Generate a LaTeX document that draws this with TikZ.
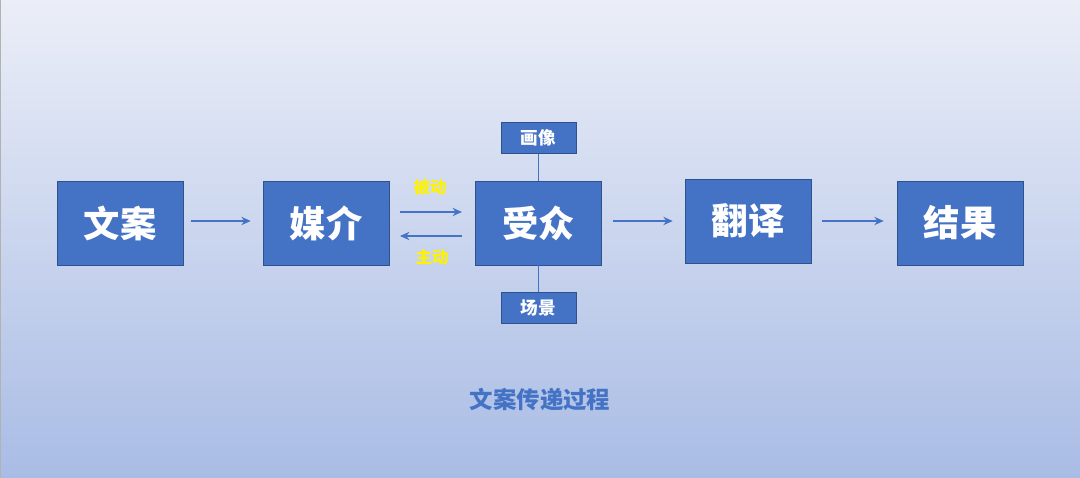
\documentclass[tikz,border=0pt]{standalone}
\usepackage{fontspec}
\newfontfamily\cjk{Noto Sans CJK SC}
\usetikzlibrary{arrows.meta,calc}
\definecolor{boxblue}{HTML}{4472C4}
\definecolor{boxedge}{HTML}{2F528F}
\definecolor{bgtop}{HTML}{EBEEF7}
\definecolor{bgbot}{HTML}{A9BCE5}
\begin{document}
\begin{tikzpicture}[x=0.03cm,y=-0.03cm,
  big/.style={draw=boxedge,fill=boxblue,text=white,minimum width=126*0.03cm,minimum height=84*0.03cm,font=\cjk\bfseries\fontsize{31}{36}\selectfont},
  small/.style={draw=boxedge,fill=boxblue,text=white,minimum width=75*0.03cm,minimum height=31*0.03cm,font=\cjk\bfseries\fontsize{15}{18}\selectfont},
  arr/.style={-{Stealth[length=8pt,width=7pt]},draw=boxblue,line width=2.2pt},
  lbl/.style={text=yellow,font=\cjk\bfseries\fontsize{14}{17}\selectfont}]
\shade[top color=bgtop,bottom color=bgbot] (0,0) rectangle (1080,478);
\useasboundingbox (0,0) rectangle (1080,478);
\draw[gray!60] (0.5,0) -- (0.5,478);
\node[big] (a) at (120,223) {文案};
\node[big] (b) at (326,223) {媒介};
\node[big] (c) at (538.5,223) {受众};
\node[big] (d) at (748,221) {翻译};
\node[big] (e) at (960,223) {结果};
\node[small] (p) at (538.5,138) {画像};
\node[small] (s) at (538.5,307.5) {场景};
\draw[boxblue] (p) -- (c);
\draw[boxblue] (c) -- (s);
\coordinate (b1) at (400,212); \coordinate (c1) at (462,212);
\coordinate (b2) at (400,236); \coordinate (c2) at (462,236);
\draw[arr] ($(a.east)+(8,-2)$) -- ($(b.west)+(-12,-2)$);
\draw[arr] (b1) -- (c1);
\draw[arr] (c2) -- (b2);
\draw[arr] ($(c.east)+(11,-2)$) -- ($(d.west)+(-12,0)$);
\draw[arr] ($(d.east)+(11,0)$) -- ($(e.west)+(-13,-2)$);
\node[lbl] (l1) at (430,187) {被动};
\node[lbl] (l2) at (432,257) {主动};
\node[text=boxblue,font=\cjk\bfseries\fontsize{20}{24}\selectfont] (t) at (540,400) {文案传递过程};
\end{tikzpicture}
\end{document}
